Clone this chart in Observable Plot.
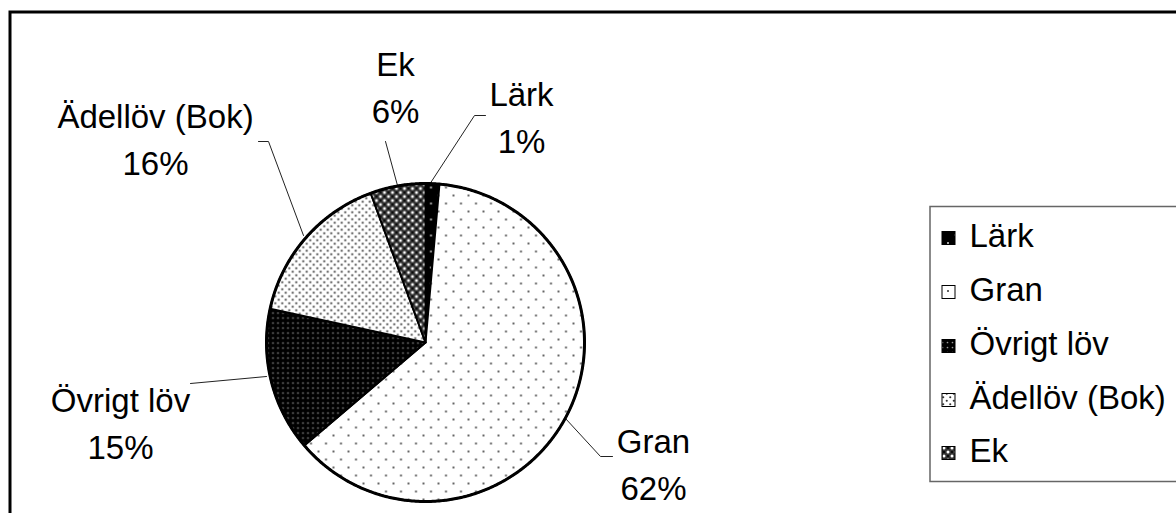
<!DOCTYPE html>
<html><head><meta charset="utf-8">
<script src="https://cdn.jsdelivr.net/npm/d3@7"></script>
<script src="https://cdn.jsdelivr.net/npm/@observablehq/plot@0.6"></script>
<style>html,body{margin:0;padding:0;background:#fff;overflow:hidden}</style>
</head><body><div id="chart"></div>
<script>
// ---- data ----
const species = ["Lärk", "Gran", "Övrigt löv", "Ädellöv (Bok)", "Ek"];
const shares = [1.4, 62.4, 14.6, 16.0, 5.6];
const patternIds = ["pLark", "pGran", "pOvrigt", "pAdel", "pEk"];

// ---- layout (pixels) ----
const W = 1176, H = 513;
const pie = {cx: 425, cy: 342, r: 159};
const labelX = [521, 653, 120, 155, 395];
const labelY = [114, 461, 420, 136, 84];
const leaders = [
  [[429, 184], [474, 115], [485, 115]],
  [[565, 418], [600, 456], [612, 456]],
  [[266, 376], [190, 383]],
  [[303, 235], [268, 141], [258, 141]],
  [[397, 185], [385, 141]]
];
const legendBox = {x1: 930, x2: 1200, y1: 206.5, y2: 481.5};
const legendRowY = [236, 290, 344, 398, 451];
const legendSwatchX = 942, legendSwatchSize = 13, legendTextX = 969;

const FONT = "'Liberation Sans', Arial, sans-serif";

// ---- pie geometry from values ----
const arcs = d3.pie().sort(null).value(d => d)(shares);
function pt(a) { return {x: pie.cx + pie.r * Math.sin(a), y: pie.cy - pie.r * Math.cos(a)}; }
const slices = arcs.map((a, i) => {
  const n = Math.max(2, Math.ceil((a.endAngle - a.startAngle) / (Math.PI / 360)) + 1);
  const pts = [{x: pie.cx, y: pie.cy}];
  for (let k = 0; k < n; k++) pts.push(pt(a.startAngle + (a.endAngle - a.startAngle) * k / (n - 1)));
  pts.push({x: pie.cx, y: pie.cy});
  return {name: species[i], pat: patternIds[i], pts};
});
const rim = d3.range(0, 721).map(k => pt(k / 720 * 2 * Math.PI));

const labels = species.map((s, i) => ({
  text: s + "\n" + Math.round(shares[i]) + "%", x: labelX[i], y: labelY[i]
}));
const leaderPts = leaders.flatMap((l, i) => l.map(([x, y]) => ({x, y, id: i})));

const legendRows = species.map((s, i) => ({name: s, pat: patternIds[i], y: legendRowY[i]}));

const chart = Plot.plot({
  width: W, height: H, margin: 0,
  x: {domain: [0, W], range: [0, W], axis: null},
  y: {domain: [0, H], range: [0, H], axis: null},
  style: {fontFamily: FONT, background: "white"},
  marks: [
    Plot.rect([0], {x1: () => 10, x2: () => W + 20, y1: () => 12, y2: () => H + 20, fill: "none", stroke: "black", strokeWidth: 3}),
    Plot.line(leaderPts, {x: "x", y: "y", z: "id", stroke: "#222", strokeWidth: 1}),
    ...slices.map(s => Plot.line(s.pts, {x: "x", y: "y", fill: `url(#${s.pat})`, stroke: "black", strokeWidth: 2, strokeLinejoin: "round"})),
    Plot.line(rim, {x: "x", y: "y", stroke: "black", strokeWidth: 3}),
    Plot.text(labels, {x: "x", y: "y", text: "text", fontSize: 33, lineHeight: 1.42, fill: "black", fontFamily: FONT}),
    Plot.rect([0], {x1: () => legendBox.x1, x2: () => legendBox.x2, y1: () => legendBox.y1, y2: () => legendBox.y2, fill: "white", stroke: "#666", strokeWidth: 1.5}),
    ...legendRows.map(r => Plot.rect([r], {x1: () => legendSwatchX, x2: () => legendSwatchX + legendSwatchSize, y1: d => d.y - legendSwatchSize / 2 + 2, y2: d => d.y + legendSwatchSize / 2 + 2, fill: `url(#${r.pat})`, stroke: "black", strokeWidth: 1})),
    Plot.text(legendRows, {x: () => legendTextX, y: "y", text: "name", textAnchor: "start", fontSize: 33, fill: "black", fontFamily: FONT})
  ]
});

// ---- SVG fill patterns ----
const svg = d3.select(chart);
const defs = svg.insert("defs", ":first-child");
function pattern(id, w, h, bg, dots) {
  const p = defs.append("pattern").attr("id", id).attr("patternUnits", "userSpaceOnUse").attr("width", w).attr("height", h);
  p.append("rect").attr("width", w).attr("height", h).attr("fill", bg);
  dots.forEach(([x, y, r, c]) => p.append("circle").attr("cx", x).attr("cy", y).attr("r", r).attr("fill", c));
}
pattern("pLark", 15, 16, "black", [[3, 3, 1, "#ddd"], [10.5, 11, 1, "#ddd"]]);
pattern("pGran", 15, 16, "white", [[3, 3, 1, "#333"], [10.5, 11, 1, "#333"]]);
pattern("pOvrigt", 5, 5, "black", [[2.5, 2.5, 0.85, "#999"]]);
pattern("pAdel", 7, 7, "white", [[1.75, 1.75, 1.05, "#333"], [5.25, 5.25, 1.05, "#333"]]);
pattern("pEk", 8, 8, "#333", [[0, 0, 1.5, "white"], [8, 0, 1.5, "white"], [0, 8, 1.5, "white"], [8, 8, 1.5, "white"], [4, 4, 1.5, "white"], [4, 0, 1.1, "black"], [0, 4, 1.1, "black"], [8, 4, 1.1, "black"], [4, 8, 1.1, "black"]]);

document.getElementById("chart").appendChild(chart);
</script>
</body></html>
